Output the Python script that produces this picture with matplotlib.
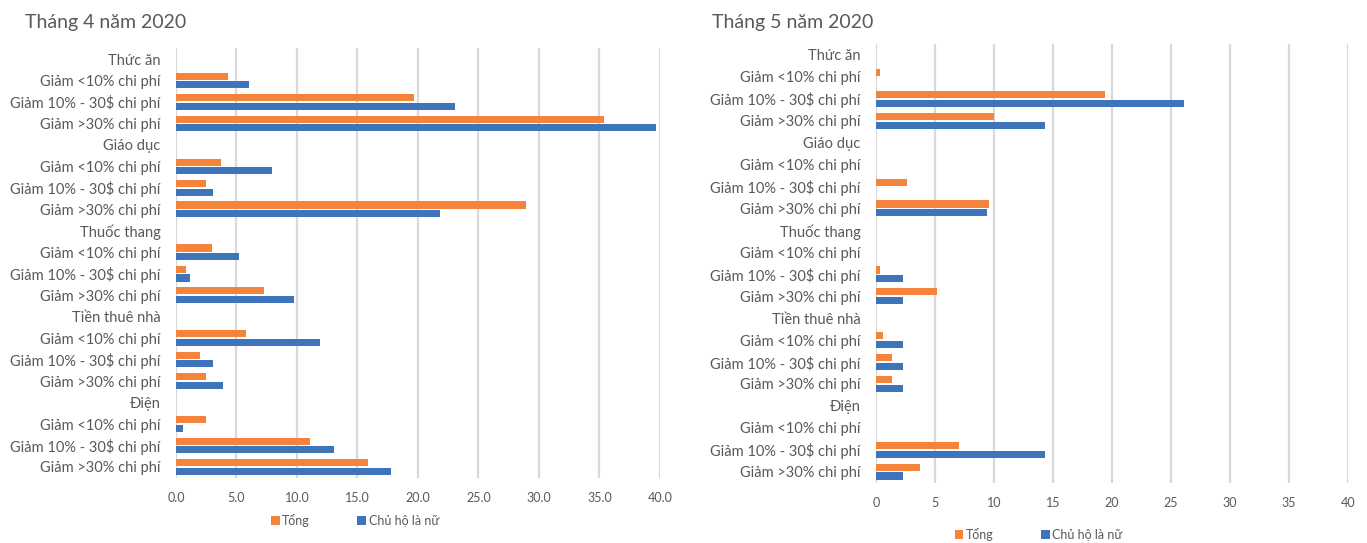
import numpy as np
import matplotlib.pyplot as plt

plt.rcParams["font.family"] = ["Lato", "DejaVu Sans"]

TEXT = "#595959"
GRID = "#d9d9d9"
ORANGE = "#f4843c"
BLUE = "#3d74bc"

groups = ["Thức ăn", "Giáo dục", "Thuốc thang", "Tiền thuê nhà", "Điện"]
levels = ["Giảm <10% chi phí", "Giảm 10% - 30$ chi phí", "Giảm >30% chi phí"]

# April 2020, per group: (<10%, 10-30%, >30%)
apr_tong = [[4.3, 19.7, 35.4], [3.7, 2.5, 28.9], [3.0, 0.8, 7.3], [5.8, 2.0, 2.5], [2.5, 11.1, 15.9]]
apr_nu = [[6.0, 23.1, 39.7], [7.9, 3.1, 21.8], [5.2, 1.2, 9.8], [11.9, 3.1, 3.9], [0.6, 13.1, 17.8]]

# May 2020
may_tong = [[0.3, 19.4, 10.0], [0.0, 2.6, 9.6], [0.0, 0.3, 5.2], [0.6, 1.4, 1.4], [0.0, 7.0, 3.7]]
may_nu = [[0.0, 26.1, 14.3], [0.0, 0.0, 9.4], [0.0, 2.3, 2.3], [2.3, 2.3, 2.3], [0.0, 14.3, 2.3]]


def flatten(vals):
    # header rows carry no bars
    out = []
    for g in vals:
        out.append(np.nan)
        out.extend(g)
    return np.array(out, dtype=float)


labels = []
for g in groups:
    labels.append(g)
    labels.extend(levels)


def draw_panel(ax, title, tong, nu, fmt, title_x):
    y = np.arange(len(labels))
    t = np.nan_to_num(flatten(tong))
    n = np.nan_to_num(flatten(nu))
    h = 0.33
    ax.barh(y - 0.2, t, height=h, color=ORANGE, label="Tổng", zorder=3)
    ax.barh(y + 0.2, n, height=h, color=BLUE, label="Chủ hộ là nữ", zorder=3)
    ax.set_yticks(y)
    ax.set_yticklabels(labels)
    ax.set_ylim(len(labels) - 0.5, -0.5)
    ax.set_xlim(0, 40)
    ax.set_xticks(np.arange(0, 41, 5))
    ax.set_xticklabels([fmt.format(v) for v in range(0, 41, 5)])
    ax.grid(axis="x", color=GRID, linewidth=1.6, zorder=0)
    for s in ax.spines.values():
        s.set_visible(False)
    ax.tick_params(axis="y", length=0, pad=11, labelsize=10.5, labelcolor=TEXT)
    ax.tick_params(axis="x", length=0, pad=10, labelsize=9, labelcolor=TEXT)
    ax.figure.text(title_x, 0.958, title, fontsize=14, color=TEXT, va="center", ha="left")


fig = plt.figure(figsize=(13.67, 5.43), dpi=100)
ax1 = fig.add_axes([0.1287, 0.1202, 0.354, 0.7909])
ax2 = fig.add_axes([0.6408, 0.1111, 0.3451, 0.8079])

draw_panel(ax1, "Tháng 4 năm 2020", apr_tong, apr_nu, "{:.1f}", 0.018)
draw_panel(ax2, "Tháng 5 năm 2020", may_tong, may_nu, "{:d}", 0.521)

leg_kw = dict(ncol=2, frameon=False, fontsize=9, handlelength=0.7, handleheight=0.7,
              handletextpad=0.2, columnspacing=3.8, labelcolor=TEXT)
ax1.legend(loc="center", bbox_to_anchor=(0.37, -0.1), **leg_kw)
ax2.legend(loc="center", bbox_to_anchor=(0.345, -0.118), **leg_kw)

fig.savefig("out.png", dpi=100)
